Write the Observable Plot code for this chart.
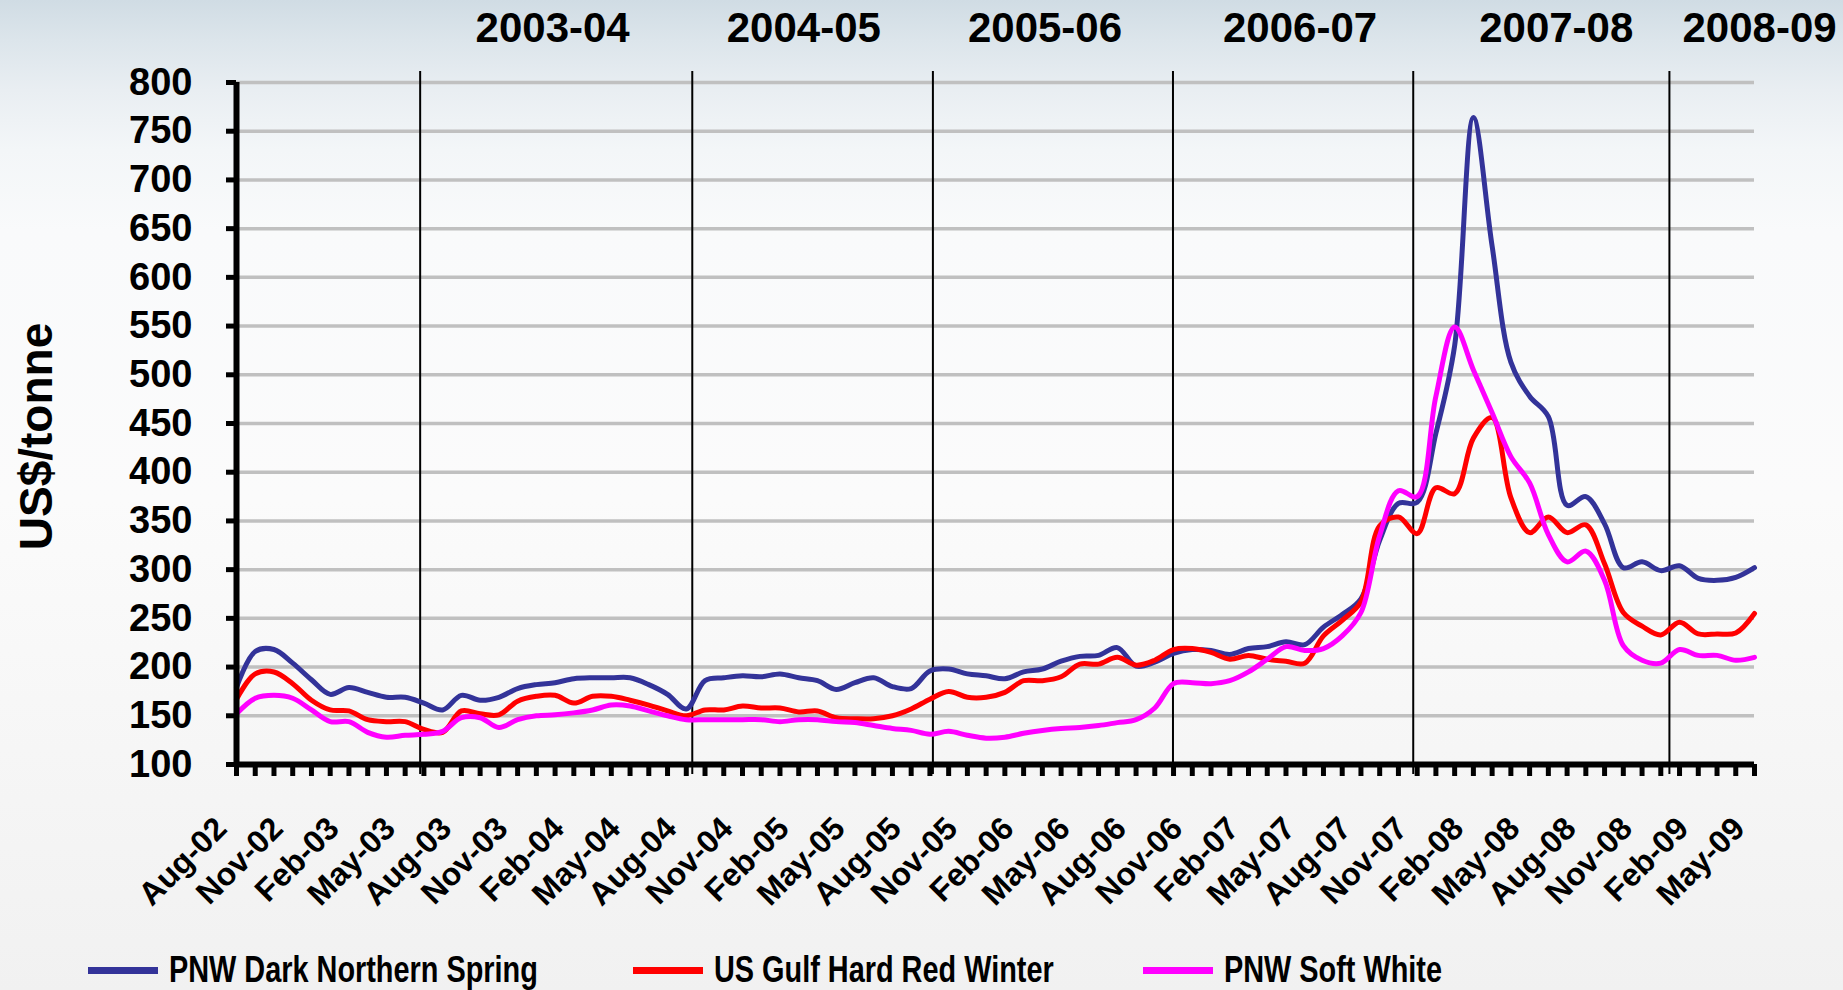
<!DOCTYPE html>
<html>
<head>
<meta charset="utf-8">
<script src="https://cdn.jsdelivr.net/npm/d3@7"></script>
<script src="https://cdn.jsdelivr.net/npm/@observablehq/plot@0.6"></script>
<style>
  html, body { margin: 0; padding: 0; width: 1843px; height: 990px; overflow: hidden; }
  body {
    font-family: "Liberation Sans", Arial, sans-serif;
    background: linear-gradient(180deg, #d0dce4 0px, #dce5eb 40px, #e9eef2 90px, #f3f6f8 150px, #f9fafb 230px, #fbfbfb 500px, #f5f5f5 800px, #f1f1f1 990px);
  }
  #chart svg g[aria-label="x-labels"] text { letter-spacing: -3px; }
  #legend { position: relative; width: 1843px; height: 50px; overflow: hidden; }
  .item { position: absolute; top: 0; height: 50px; }
  .sw { position: absolute; left: 0; top: 27px; width: 70px; height: 7px; }
  .lt { position: absolute; top: 11px; left: 81px; font-weight: bold; font-size: 37px; line-height: 1;
        white-space: nowrap; transform: scaleX(0.78); transform-origin: left center; color: #000; }
</style>
</head>
<body>
<div id="chart"></div>
<div id="legend"></div>
<script>
// Month categories (monthly, Aug-02 .. May-09)
const months = [
  "Aug-02","Sep-02","Oct-02","Nov-02","Dec-02","Jan-03","Feb-03","Mar-03","Apr-03","May-03","Jun-03","Jul-03",
  "Aug-03","Sep-03","Oct-03","Nov-03","Dec-03","Jan-04","Feb-04","Mar-04","Apr-04","May-04","Jun-04","Jul-04",
  "Aug-04","Sep-04","Oct-04","Nov-04","Dec-04","Jan-05","Feb-05","Mar-05","Apr-05","May-05","Jun-05","Jul-05",
  "Aug-05","Sep-05","Oct-05","Nov-05","Dec-05","Jan-06","Feb-06","Mar-06","Apr-06","May-06","Jun-06","Jul-06",
  "Aug-06","Sep-06","Oct-06","Nov-06","Dec-06","Jan-07","Feb-07","Mar-07","Apr-07","May-07","Jun-07","Jul-07",
  "Aug-07","Sep-07","Oct-07","Nov-07","Dec-07","Jan-08","Feb-08","Mar-08","Apr-08","May-08","Jun-08","Jul-08",
  "Aug-08","Sep-08","Oct-08","Nov-08","Dec-08","Jan-09","Feb-09","Mar-09","Apr-09","May-09"
];

// US$/tonne
const pnwDarkNorthernSpring = [
  179,216,218,204,187,172,179,174,169,169,163,156,
  171,166,169,178,182,184,188,189,189,189,182,172,
  157,186,189,191,190,193,189,186,177,184,189,180,
  178,196,198,193,191,188,195,198,206,211,212,220,
  201,205,214,218,217,213,219,221,226,223,241,254,
  270,330,368,369,440,530,764,632,513,478,457,366,
  375,347,302,308,299,304,291,289,292,302
];
const usGulfHardRedWinter = [
  167,193,195,183,166,156,155,146,144,144,136,133,
  155,152,151,165,170,171,163,170,170,166,161,155,
  150,156,156,160,158,158,154,155,148,147,147,150,
  157,167,175,169,169,174,186,186,190,203,203,210,
  202,207,218,219,215,208,212,208,206,204,232,248,
  267,345,354,337,384,378,435,456,374,338,354,338,
  346,306,256,242,233,246,234,234,235,255
];
const pnwSoftWhite = [
  152,168,171,168,156,144,144,133,128,130,131,134,
  148,148,138,146,150,151,153,156,161,160,155,150,
  146,146,146,146,146,144,146,146,144,143,140,137,
  135,131,134,130,127,128,132,135,137,138,140,143,
  146,158,183,184,183,186,195,208,221,217,219,232,
  256,335,381,375,478,549,505,461,416,389,336,308,
  319,289,222,207,204,218,212,212,207,210
];

const seriesNames = ["PNW Dark Northern Spring", "US Gulf Hard Red Winter", "PNW Soft White"];
const seriesColors = ["#333399", "#ff0000", "#ff00ff"];
const yTicks = [100,150,200,250,300,350,400,450,500,550,600,650,700,750,800];

// Marketing-year dividers and labels, in month positions (0 = Aug-02)
const dividers = [9.8, 24.32, 37.16, 49.97, 62.79, 76.46];
const seasons = ["2003-04", "2004-05", "2005-06", "2006-07", "2007-08", "2008-09"];
const seasonPos = [16.87, 30.27, 43.14, 56.75, 70.42, 81.27];

const rows = [];
[pnwDarkNorthernSpring, usGulfHardRedWinter, pnwSoftWhite].forEach((vals, s) =>
  vals.forEach((v, i) => rows.push({series: seriesNames[s], month: i, price: v}))
);
const monthIdx = months.map((m, i) => i);
const labelIdx = monthIdx.filter(i => i % 3 === 0);
const seasonRows = seasons.map((s, i) => ({label: s, pos: seasonPos[i]}));

const chart = Plot.plot({
  width: 1843,
  height: 940,
  marginLeft: 236,
  marginRight: 89,
  marginTop: 82,
  marginBottom: 176,
  style: {background: "transparent", overflow: "visible", fontFamily: "'Liberation Sans', Arial, sans-serif", color: "black"},
  x: {type: "linear", domain: [0, months.length - 1], axis: null},
  y: {domain: [100, 800], axis: null},
  color: {domain: seriesNames, range: seriesColors},
  marks: [
    Plot.gridY({ticks: yTicks, stroke: "#c0c0c0", strokeOpacity: 1, strokeWidth: 3.5}),
    Plot.ruleX(dividers, {stroke: "black", strokeWidth: 2, insetTop: -11, insetBottom: -10}),
    Plot.line(rows, {x: "month", y: "price", z: "series", stroke: "series", strokeWidth: 5,
                     curve: "catmull-rom", strokeLinejoin: "round"}),
    Plot.axisY({ticks: yTicks, tickSize: 10, tickPadding: 34, strokeWidth: 5, fontSize: 38,
                fontWeight: "bold", label: null}),
    Plot.axisX({ticks: monthIdx, tickSize: 12, strokeWidth: 5, tickFormat: () => "", label: null}),
    Plot.text(labelIdx, {x: d => d, text: d => months[d], frameAnchor: "bottom", rotate: -45,
                         textAnchor: "end", lineAnchor: "bottom", dx: -8, dy: 66, fontSize: 32,
                         fontWeight: "bold", ariaLabel: "x-labels"}),
    Plot.ruleX([0], {stroke: "black", strokeWidth: 6}),
    Plot.ruleY([100], {stroke: "black", strokeWidth: 6}),
    Plot.text(seasonRows, {x: "pos", text: "label", frameAnchor: "top", lineAnchor: "middle",
                           textAnchor: "middle", dy: -54, fontSize: 42, fontWeight: "bold"}),
    Plot.text(["US$/tonne"], {frameAnchor: "left", rotate: -90, textAnchor: "middle", lineAnchor: "middle",
                              dx: -199, dy: 13, fontSize: 46, fontWeight: "bold"})
  ]
});
document.getElementById("chart").appendChild(chart);

// Legend
const legendLefts = [88, 633, 1143];
const legend = document.getElementById("legend");
seriesNames.forEach((name, i) => {
  const item = document.createElement("div");
  item.className = "item";
  item.style.left = legendLefts[i] + "px";
  const sw = document.createElement("div");
  sw.className = "sw";
  sw.style.background = seriesColors[i];
  const lt = document.createElement("div");
  lt.className = "lt";
  lt.textContent = name;
  item.appendChild(sw);
  item.appendChild(lt);
  legend.appendChild(item);
});
</script>
</body>
</html>
